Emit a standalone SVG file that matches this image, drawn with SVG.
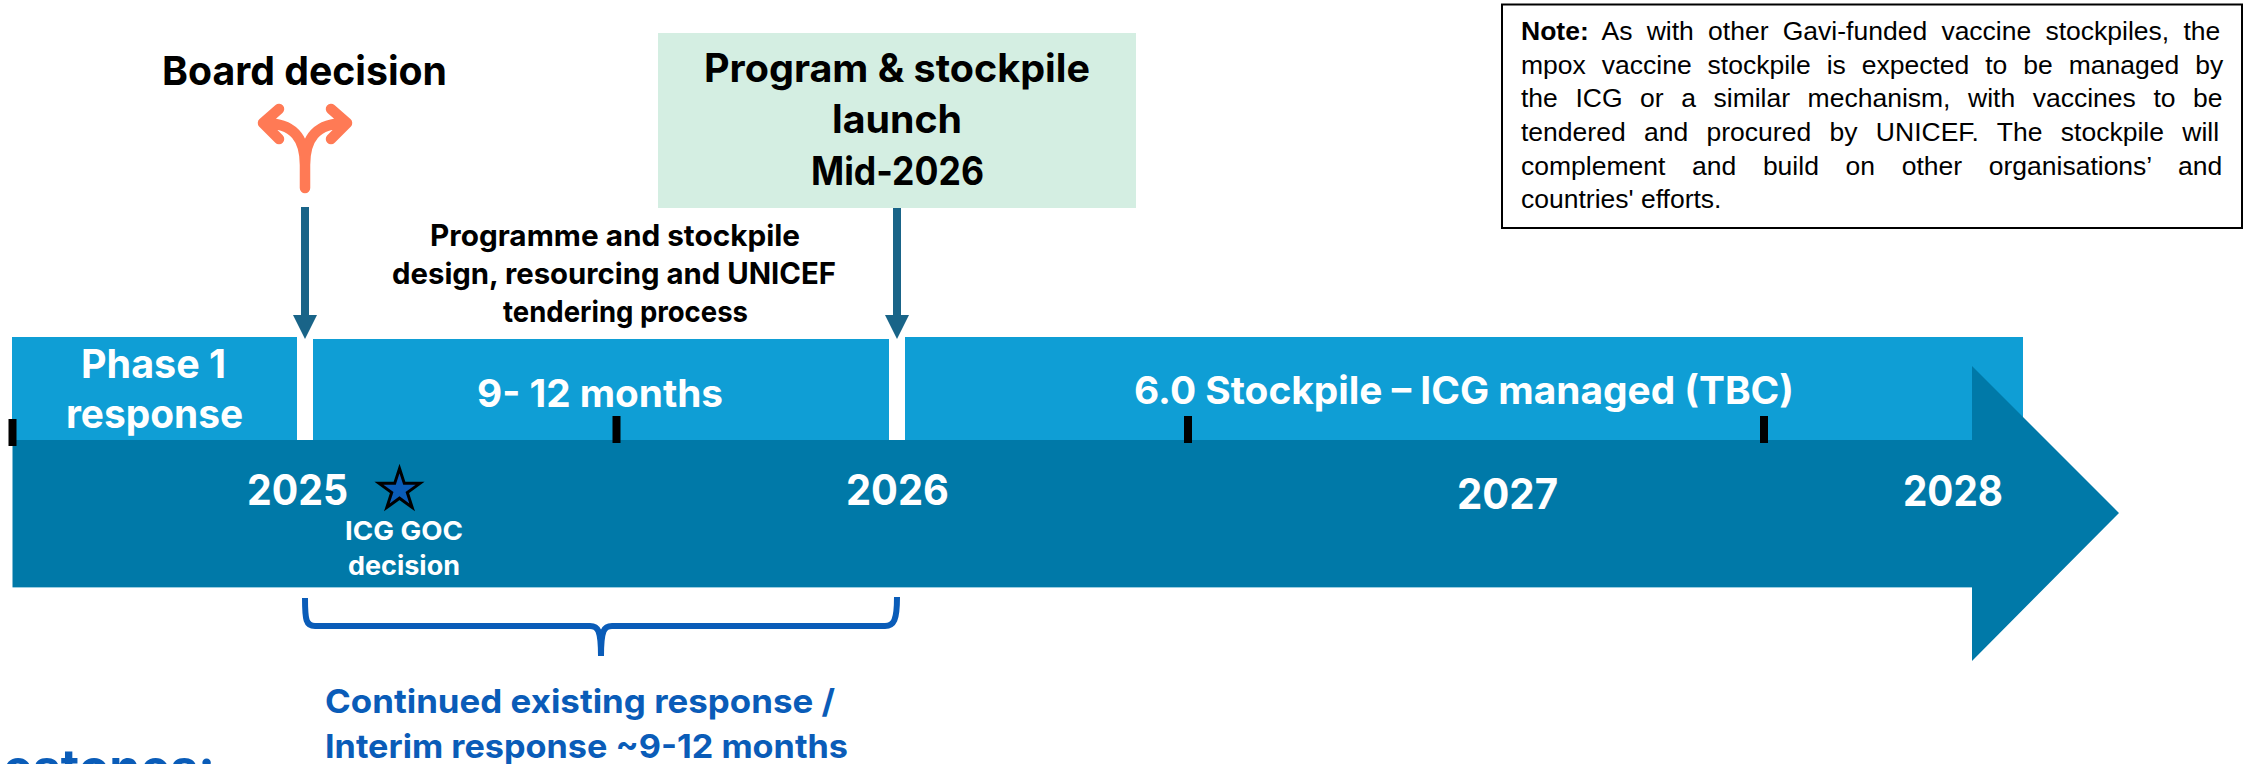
<svg xmlns="http://www.w3.org/2000/svg" width="2246" height="764" viewBox="0 0 2246 764">
<defs>
<style>
text{font-family:"Inter","Liberation Sans",sans-serif;font-weight:700}
.k{fill:#000}.w{fill:#fff}.b{fill:#0A5CB8}
.lb{fill:#0F9ED5}.tick{fill:#000}
.note{font-family:"Liberation Sans",Arial,sans-serif;font-weight:400;font-size:26.5px;fill:#000}
.a{fill:none;stroke:#196488;stroke-width:8}.h{fill:#196488}
.fork{fill:none;stroke:#FF7A55;stroke-width:10.5;stroke-linecap:round;stroke-linejoin:round}
.brace{fill:none;stroke:#0A5CB8;stroke-width:6}
</style>
</defs>
<rect width="2246" height="764" fill="#fff"/>
<g id="phase-bars">
<rect class="lb" x="12" y="337" width="285" height="104"/>
<rect class="lb" x="313" y="339" width="576" height="102"/>
<rect class="lb" x="905" y="337" width="1118" height="104"/>
</g>
<g id="timeline-arrow">
<polygon points="12.500,440 1972,440 1972,366 2119,513 1972,661 1972,587 12.500,587" fill="#0079A8"/>
<path d="M12.500 587.500H1972" stroke="#9CCDE0" stroke-width="1" fill="none"/>
</g>
<g id="ticks">
<rect class="tick" x="8.500" y="419" width="8" height="27"/>
<rect class="tick" x="612.500" y="416" width="8" height="27"/>
<rect class="tick" x="1184" y="416" width="8" height="27"/>
<rect class="tick" x="1760" y="416" width="8" height="27"/>
</g>
<g id="connectors">
<path class="a" d="M305 207V320"/><polygon class="h" points="293,315 317,315 305,339"/>
<path class="a" d="M897 208V320"/><polygon class="h" points="885,315 909,315 897,339"/>
</g>
<g id="board-decision">
<text class="k" x="162" y="85" font-size="40" textLength="285" lengthAdjust="spacingAndGlyphs">Board decision</text>
<path class="fork" d="M305 188V165C305 140 295 123 264 123M279 109L263 123L279 139M305 165C305 140 315 123 346 123M331 109L347 123L331 139"/>
</g>
<g id="program-launch">
<rect x="658" y="33" width="478" height="175" fill="#D4EEE2"/>
<text class="k" x="704" y="82" font-size="39" textLength="386" lengthAdjust="spacingAndGlyphs">Program &amp; stockpile</text>
<text class="k" x="832" y="133" font-size="39" textLength="130" lengthAdjust="spacingAndGlyphs">launch</text>
<text class="k" x="811" y="185" font-size="39" textLength="173" lengthAdjust="spacingAndGlyphs">Mid-2026</text>
</g>
<g id="design-label">
<text class="k" x="430" y="246" font-size="29.500" textLength="370" lengthAdjust="spacingAndGlyphs">Programme and stockpile</text>
<text class="k" x="392" y="284" font-size="29.500" textLength="444" lengthAdjust="spacingAndGlyphs">design, resourcing and UNICEF</text>
<text class="k" x="503" y="322" font-size="29.500" textLength="245" lengthAdjust="spacingAndGlyphs">tendering process</text>
</g>
<g id="note">
<rect x="1502" y="4.500" width="740" height="223.500" fill="#fff" stroke="#000" stroke-width="2"/>
<text class="note" x="1521" y="40" word-spacing="6.9"><tspan font-weight="700">Note:</tspan> As with other Gavi-funded vaccine stockpiles, the</text>
<text class="note" x="1521" y="73.500" word-spacing="8.6">mpox vaccine stockpile is expected to be managed by</text>
<text class="note" x="1521" y="107" word-spacing="10.2">the ICG or a similar mechanism, with vaccines to be</text>
<text class="note" x="1521" y="141" word-spacing="11">tendered and procured by UNICEF. The stockpile will</text>
<text class="note" x="1521" y="174.500" word-spacing="19.3">complement and build on other organisations’ and</text>
<text class="note" x="1521" y="208">countries' efforts.</text>
</g>
<g id="bar-labels">
<text class="w" x="81" y="378" font-size="40" textLength="145" lengthAdjust="spacingAndGlyphs">Phase 1</text>
<text class="w" x="66" y="428" font-size="40" textLength="177" lengthAdjust="spacingAndGlyphs">response</text>
<text class="w" x="477" y="407" font-size="38" textLength="246" lengthAdjust="spacingAndGlyphs">9- 12 months</text>
<text class="w" x="1134" y="404" font-size="38" textLength="660" lengthAdjust="spacingAndGlyphs">6.0 Stockpile – ICG managed (TBC)</text>
</g>
<g id="years">
<text class="w" x="247" y="505" font-size="42" textLength="101" lengthAdjust="spacingAndGlyphs">2025</text>
<text class="w" x="846" y="505" font-size="42" textLength="103" lengthAdjust="spacingAndGlyphs">2026</text>
<text class="w" x="1457" y="509" font-size="42" textLength="101" lengthAdjust="spacingAndGlyphs">2027</text>
<text class="w" x="1903" y="506" font-size="42" textLength="100" lengthAdjust="spacingAndGlyphs">2028</text>
</g>
<g id="icg-goc">
<polygon points="399.500,468.500 404.320,483.370 419.950,483.360 407.300,492.530 412.140,507.390 399.500,498.200 386.860,507.390 391.700,492.530 379.050,483.360 394.680,483.370" fill="#0A5CB8" stroke="#000" stroke-width="3"/>
<text class="w" x="345" y="540" font-size="26" textLength="118" lengthAdjust="spacingAndGlyphs">ICG GOC</text>
<text class="w" x="348" y="575" font-size="26" textLength="112" lengthAdjust="spacingAndGlyphs">decision</text>
</g>
<g id="interim">
<path class="brace" d="M305 598C305 620 306 626 315 626H590C598 626 601 630 601 656M601 656C601 630 604 626 612 626H885C894 626 897 620 897 597"/>
<text class="b" x="325" y="713" font-size="33" textLength="510" lengthAdjust="spacingAndGlyphs">Continued existing response /</text>
<text class="b" x="325" y="758" font-size="33" textLength="523" lengthAdjust="spacingAndGlyphs">Interim response ~9-12 months</text>
<text class="b" x="3" y="785" font-size="50" textLength="212" lengthAdjust="spacingAndGlyphs">estones:</text>
</g>
</svg>
